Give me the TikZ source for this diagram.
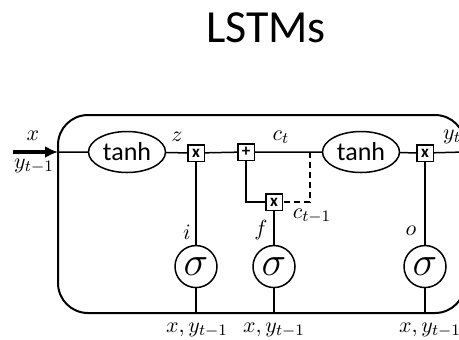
\documentclass[tikz,border=0pt]{standalone}
\usepackage{fontspec}
\newfontfamily\carlito{Carlito}
\usetikzlibrary{arrows.meta,positioning,shapes.geometric}

\begin{document}
\begin{tikzpicture}[
      x=0.5pt,y=-0.5pt,
      line width=0.75pt,
      node distance=41.4pt,
      act/.style={
        draw,
        ellipse,
        inner sep=0pt,
        minimum width=38.5pt,
        minimum height=20.5pt,
        font=\carlito\fontsize{13}{13}\selectfont
      },
      gate/.style={
        draw,
        fill=white,
        inner sep=0pt,
        minimum size=8.25pt,
        font=\carlito\bfseries\fontsize{8.5}{8.5}\selectfont
      },
      sig/.style={
        draw,
        circle,
        inner sep=0pt,
        minimum size=21pt,
        font=\fontsize{20}{20}\selectfont
      },
      lbl/.style={inner sep=0pt,font=\fontsize{11}{11}\selectfont},
      arr/.style={-{Latex[length=6.5pt,width=6pt]},line width=2pt}
    ]
    \useasboundingbox (0,0) rectangle (459,339);
    \node[font=\carlito\fontsize{23}{23}\selectfont] (title) at (266,28) {LSTMs};
    \draw[line width=1pt,rounded corners=15pt] (58,115) rectangle (465,313);
    \coordinate (src) at (13,152);
    \coordinate (in) at (58,152);
    \coordinate (out) at (465,152);
    \coordinate (jn) at (310,152);
    \node[act] (tanha) at (127,152) {tanh};
    \node[gate] (mula) at (196,153) {x};
    \node[gate] (add) at (246,152) {+};
    \node[gate] (mulb) at (274,202) {x};
    \node[act] (tanhb) at (361,152) {tanh};
    \node[gate] (mulc) at (425,153) {x};
    \node[sig,below=of mula] (siga) {$\sigma$};
    \node[sig,below=16.9pt of mulb] (sigb) {$\sigma$};
    \node[sig,below=of mulc] (sigc) {$\sigma$};
    \coordinate (bota) at (196,313);
    \coordinate (botb) at (274,313);
    \coordinate (botc) at (425,313);
    \draw[arr] (src) -- (in);
    \draw (in) -- (tanha) -- (mula) -- (add) -- (tanhb) -- (mulc) -- (out);
    \draw (add) |- (mulb);
    \draw[dashed,dash pattern=on 3pt off 2pt] (jn) |- (mulb);
    \draw (mula) -- (siga) -- (bota);
    \draw (mulb) -- (sigb) -- (botb);
    \draw (mulc) -- (sigc) -- (botc);
    \node[lbl] (lx) at (33,136) {$x$};
    \node[lbl] (ly) at (34,166) {$y_{t-1}$};
    \node[lbl] (lz) at (177,137) {$z$};
    \node[lbl] (lct) at (281,137) {$c_t$};
    \node[lbl] (lyt) at (452,137) {$y_t$};
    \node[lbl] (lcp) at (312,216) {$c_{t-1}$};
    \node[lbl] (li) at (187,232) {$i$};
    \node[lbl] (lf) at (261,230) {$f$};
    \node[lbl] (lo) at (411,231) {$o$};
    \node[lbl] (xa) at (197,330) {$x,y_{t-1}$};
    \node[lbl] (xb) at (274,330) {$x,y_{t-1}$};
    \node[lbl] (xc) at (430,330) {$x,y_{t-1}$};
  \end{tikzpicture}
\end{document}
